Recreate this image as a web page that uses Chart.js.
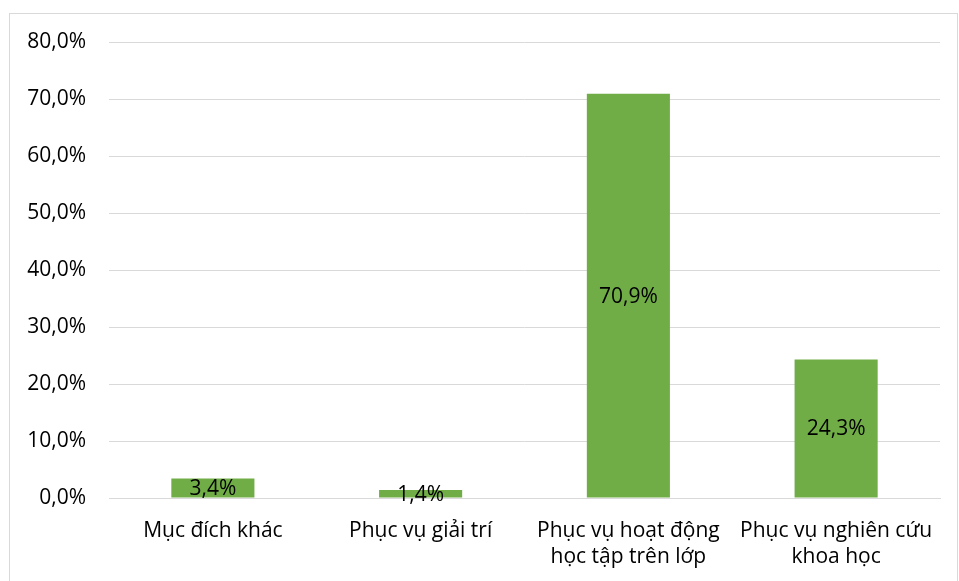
<!DOCTYPE html>
<html>
<head>
<meta charset="utf-8">
<script src="https://cdn.jsdelivr.net/npm/chart.js@4.4.1/dist/chart.umd.min.js"></script>
<style>
  html, body { margin: 0; padding: 0; background: #fff; }
  #wrap { width: 959px; height: 581px; position: relative; }
</style>
</head>
<body>
<div id="wrap"><canvas id="chart" width="959" height="581"></canvas></div>
<script>
// Data
const categories = [
    'Mục đích khác',
    'Phục vụ giải trí',
    ['Phục vụ hoạt động', 'học tập trên lớp'],
    ['Phục vụ nghiên cứu', 'khoa học'],
];
const values = [3.4, 1.4, 70.9, 24.3];

const FONT = "'Open Sans', sans-serif";
const fmt = (v) => v.toFixed(1).replace('.', ',') + '%';

// outer frame like the office chart border
const framePlugin = {
    id: 'frame',
    beforeDraw(chart) {
        const c = chart.ctx;
        c.save();
        c.fillStyle = '#fff';
        c.fillRect(0, 0, chart.width, chart.height);
        c.strokeStyle = '#d9d9d9';
        c.lineWidth = 1;
        c.strokeRect(9.5, 13.5, 948, 600);
        c.restore();
    },
};

// value labels centered in the bars
const labelPlugin = {
    id: 'barLabels',
    afterDatasetsDraw(chart) {
        const c = chart.ctx;
        const meta = chart.getDatasetMeta(0);
        c.save();
        c.font = `21px ${FONT}`;
        c.fillStyle = '#000';
        c.textAlign = 'center';
        c.textBaseline = 'middle';
        meta.data.forEach((bar, i) => {
            const h = bar.base - bar.y;
            // tiny bars: Excel pushes the label down a bit
            const y = h < 15 ? bar.base - 3 : (bar.y + bar.base) / 2;
            c.fillText(fmt(values[i]), bar.x, y + 1);
        });
        c.restore();
    },
};

new Chart(document.getElementById('chart'), {
    type: 'bar',
    data: {
        labels: categories,
        datasets: [{
            data: values,
            backgroundColor: '#70ad47',
            borderWidth: 0,
            barPercentage: 0.4,
            categoryPercentage: 1,
        }],
    },
    options: {
        responsive: false,
        animation: false,
        layout: { padding: { left: 0, top: 42, right: 19, bottom: 0 } },
        plugins: {
            legend: { display: false },
            tooltip: { enabled: false },
        },
        scales: {
            x: {
                grid: { display: false, drawTicks: false },
                border: { display: true, color: '#d9d9d9', width: 1 },
                ticks: {
                    color: '#000',
                    font: { family: FONT, size: 21, lineHeight: 1.25 },
                    padding: 20,
                    maxRotation: 0,
                    autoSkip: false,
                },
                afterFit: (s) => { s.height = 83; },
            },
            y: {
                min: 0,
                max: 80,
                grid: { color: '#d9d9d9', lineWidth: 1, drawTicks: false },
                border: { display: false },
                ticks: {
                    stepSize: 10,
                    color: '#000',
                    font: { family: FONT, size: 21 },
                    padding: 23,
                    callback: (v) => fmt(v),
                },
                afterFit: (s) => { s.width = 109; },
            },
        },
    },
    plugins: [framePlugin, labelPlugin],
});
</script>
</body>
</html>
